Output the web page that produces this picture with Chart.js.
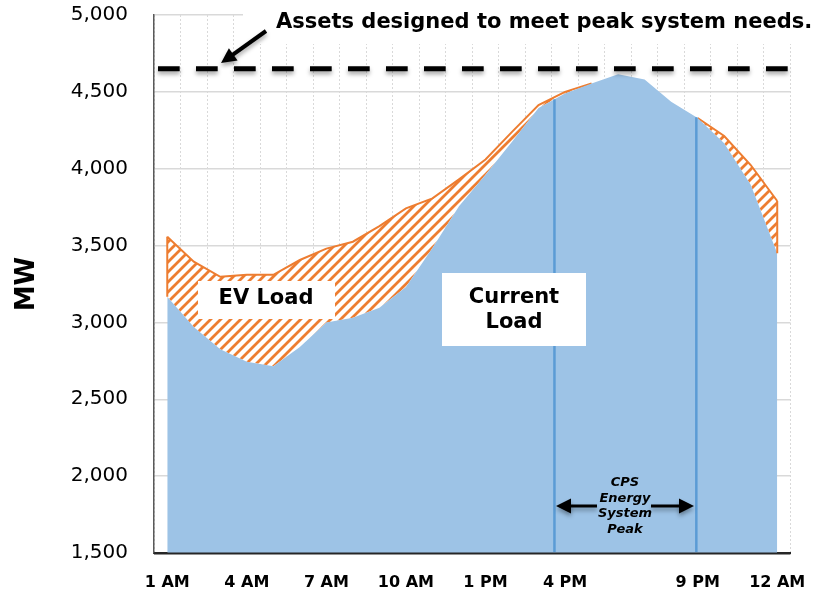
<!DOCTYPE html>
<html>
<head>
<meta charset="utf-8">
<title>Current Load vs EV Load</title>
<script src="https://cdn.jsdelivr.net/npm/chart.js@4.4.1/dist/chart.umd.min.js"></script>
<style>
  html, body { margin: 0; padding: 0; background: #fff; }
</style>
</head>
<body>
<canvas id="myChart" width="826" height="592"></canvas>
<script>
// D O N N E E S  - - - - - - - - - - - - - - - - - - - - - - - - - - - -

let hours = ['1 AM','2 AM','3 AM','4 AM','5 AM','6 AM','7 AM','8 AM','9 AM','10 AM','11 AM','12 PM',
             '1 PM','2 PM','3 PM','4 PM','5 PM','6 PM','7 PM','8 PM','9 PM','10 PM','11 PM','12 AM'];
let shownHours = ['1 AM','4 AM','7 AM','10 AM','1 PM','4 PM','9 PM','12 AM'];   // labels visibles sous l'axe

// MW, une valeur par heure
let currentLoad = [3167, 2970, 2825, 2745, 2715, 2840, 3000, 3030, 3095, 3230, 3485, 3755,
                   3960, 4175, 4395, 4490, 4555, 4615, 4580, 4435, 4330, 4165, 3895, 3450];
let evLoad      = [ 391,  425,  472,  565,  595,  566,  480,  495,  532,  512,  322,  176,
                    100,   65,   19,   10,    0,    0,    0,    0,    0,   48,  129,  340];

let yTicks = { min: 1500, max: 5000, step: 500 };
let peakCapacity = 4650;          // ligne pointillée "assets designed..."
let peakWindow = [14.6, 19.95];   // fenêtre CPS Energy (index de categorie)

// C O U L E U R S - - - - - - - - - - - - - - - - - - - - - - - - - - - -
let blueFill = '#9DC3E6';
let orange = '#ED7D31';

function hatchPattern(){
    let c = document.createElement('canvas');
    c.width = 10; c.height = 10;
    let g = c.getContext('2d');
    g.fillStyle = '#fff';
    g.fillRect(0, 0, 10, 10);
    g.strokeStyle = orange;
    g.lineWidth = 2.8;
    g.beginPath();
    g.moveTo(-5, 5); g.lineTo(5, -5);
    g.moveTo(0, 10); g.lineTo(10, 0);
    g.moveTo(5, 15); g.lineTo(15, 5);
    g.stroke();
    return g.createPattern(c, 'repeat');
}

function arrow(ctx, x0, y0, x1, y1, head, width){
    let a = Math.atan2(y1 - y0, x1 - x0);
    let c = Math.cos(a), s = Math.sin(a);
    ctx.lineWidth = width;
    ctx.beginPath();
    ctx.moveTo(x0, y0);
    ctx.lineTo(x1 - c * head * 0.8, y1 - s * head * 0.8);
    ctx.stroke();
    ctx.beginPath();
    ctx.moveTo(x1, y1);
    ctx.lineTo(x1 - head * c + head * 0.5 * s, y1 - head * s - head * 0.5 * c);
    ctx.lineTo(x1 - head * c - head * 0.5 * s, y1 - head * s + head * 0.5 * c);
    ctx.closePath();
    ctx.fill();
}

function loadAt(idx){                       // valeur du "current load" entre deux heures
    let i = Math.floor(idx), f = idx - i;
    if (i >= currentLoad.length - 1) return currentLoad[currentLoad.length - 1];
    return currentLoad[i] + (currentLoad[i + 1] - currentLoad[i]) * f;
}

// A N N O T A T I O N S - - - - - - - - - - - - - - - - - - - - - - - - -
let decor = {
    id: 'decor',
    beforeDraw(chart){
        let ctx = chart.ctx;
        ctx.save();
        ctx.fillStyle = '#fff';
        ctx.fillRect(0, 0, chart.width, chart.height);
        ctx.restore();
    },
    afterDatasetsDraw(chart){
        let ctx = chart.ctx, a = chart.chartArea, x = chart.scales.x, y = chart.scales.y;
        let last = hours.length - 1;
        ctx.save();

        // bords verticaux de la zone EV
        ctx.strokeStyle = orange;
        ctx.lineWidth = 2;
        [0, last].forEach(function(i){
            let px = x.getPixelForValue(i);
            ctx.beginPath();
            ctx.moveTo(px, y.getPixelForValue(currentLoad[i] + evLoad[i]));
            ctx.lineTo(px, y.getPixelForValue(currentLoad[i]));
            ctx.stroke();
        });

        // axe du bas redessine au dessus du remplissage
        ctx.strokeStyle = '#262626';
        ctx.lineWidth = 2;
        ctx.beginPath();
        ctx.moveTo(a.left, a.bottom + 0.5);
        ctx.lineTo(a.right, a.bottom + 0.5);
        ctx.stroke();

        // lignes bleues de la periode de pointe
        ctx.strokeStyle = '#5B9BD5';
        ctx.lineWidth = 2.5;
        peakWindow.forEach(function(v){
            let px = x.getPixelForValue(v);
            ctx.beginPath();
            ctx.moveTo(px, y.getPixelForValue(loadAt(v)));
            ctx.lineTo(px, a.bottom - 1);
            ctx.stroke();
        });

        // bande blanche derriere le texte du haut
        ctx.fillStyle = '#fff';
        ctx.fillRect(243, 0, chart.width - 243, 44);

        // ligne pointillee de capacite
        ctx.shadowColor = 'rgba(0,0,0,0.35)';
        ctx.shadowBlur = 4;
        ctx.shadowOffsetY = 3;
        ctx.strokeStyle = '#000';
        ctx.lineWidth = 5;
        ctx.setLineDash([21.7, 16.3]);
        let yc = y.getPixelForValue(peakCapacity);
        ctx.beginPath();
        ctx.moveTo(a.left + 4, yc);
        ctx.lineTo(a.right, yc);
        ctx.stroke();
        ctx.setLineDash([]);

        // fleches
        ctx.fillStyle = '#000';
        arrow(ctx, 266, 31, 221, 63, 15, 4);
        arrow(ctx, 597, 506, 556, 506, 15, 3);
        arrow(ctx, 651, 506, 694, 506, 15, 3);
        ctx.shadowColor = 'rgba(0,0,0,0)';

        // textes
        ctx.fillStyle = '#000';
        ctx.textBaseline = 'middle';
        ctx.textAlign = 'left';
        ctx.font = 'bold 21px "DejaVu Sans"';
        ctx.fillText('Assets designed to meet peak system needs.', 276, 23);

        ctx.fillStyle = '#fff';
        ctx.fillRect(198, 281, 137, 38);
        ctx.fillRect(442, 273, 144, 73);
        ctx.fillStyle = '#000';
        ctx.textAlign = 'center';
        ctx.fillText('EV Load', 266, 299);
        ctx.fillText('Current', 514, 298);
        ctx.fillText('Load', 514, 323);

        ctx.font = 'italic bold 13px "DejaVu Sans"';
        ['CPS', 'Energy', 'System', 'Peak'].forEach(function(t, k){
            ctx.fillText(t, 625, 483 + k * 15.5);
        });
        ctx.restore();
    }
};

// G R A P H I Q U E - - - - - - - - - - - - - - - - - - - - - - - - - - -
Chart.defaults.font.family = '"DejaVu Sans", Verdana, sans-serif';
Chart.defaults.color = '#000';

let graphOne = document.getElementById('myChart');

new Chart(graphOne, {
    type: 'line',
    data: {
        labels: hours,
        datasets: [
            {
                label: 'Current Load',
                data: currentLoad,
                fill: 'start',
                backgroundColor: blueFill,
                borderWidth: 0,
                pointRadius: 0,
                tension: 0
            },
            {
                label: 'EV Load',
                data: evLoad,
                fill: '-1',
                backgroundColor: hatchPattern(),
                borderColor: orange,
                borderWidth: 2,
                pointRadius: 0,
                tension: 0,
                segment: {
                    borderColor: function(c){
                        return (evLoad[c.p0DataIndex] === 0 && evLoad[c.p1DataIndex] === 0) ? 'rgba(0,0,0,0)' : undefined;
                    }
                }
            }
        ]
    },
    options: {
        responsive: false,
        animation: false,
        devicePixelRatio: 1,
        layout: { padding: { top: 15, right: 34, bottom: 0, left: 0 } },
        plugins: { legend: { display: false }, tooltip: { enabled: false } },
        scales: {
            x: {
                offset: true,
                grid: { offset: true, color: '#d9d9d9', lineWidth: 1, drawTicks: false },
                border: { color: '#262626', width: 2, dash: [2, 2] },
                ticks: {
                    autoSkip: false,
                    maxRotation: 0,
                    minRotation: 0,
                    padding: 20,
                    font: { size: 16, weight: 'bold' },
                    callback: function(val){
                        let l = this.getLabelForValue(val);
                        return shownHours.includes(l) ? l : '';
                    }
                },
                afterFit: function(s){ s.height = 39; }
            },
            y: {
                stacked: true,
                min: yTicks.min,
                max: yTicks.max,
                grid: {
                    drawTicks: true,
                    tickLength: 23,
                    tickColor: 'rgba(0,0,0,0)',
                    lineWidth: 1.5,
                    color: function(c){ return c.tick && c.tick.value === yTicks.min ? 'rgba(0,0,0,0)' : '#d9d9d9'; }
                },
                border: { color: '#595959', width: 1.5 },
                ticks: {
                    stepSize: yTicks.step,
                    padding: 3,
                    font: { size: 20 },
                    callback: function(v){ return v.toLocaleString('en-US'); }
                },
                title: {
                    display: true,
                    text: 'MW',
                    font: { size: 26, weight: 'bold' },
                    padding: { top: 12, bottom: 0 }
                },
                afterFit: function(s){ s.width = 154; }
            }
        }
    },
    plugins: [decor]
});
</script>
</body>
</html>
